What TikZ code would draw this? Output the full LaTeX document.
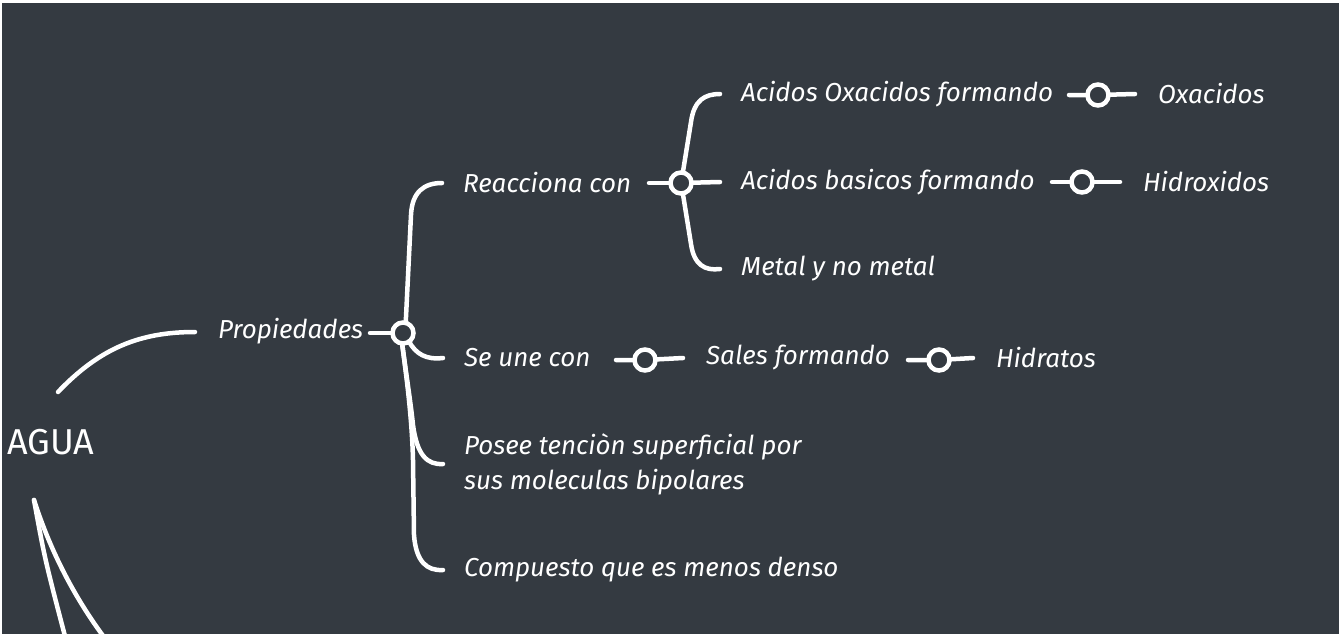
\documentclass[tikz,border=0pt]{standalone}
\usepackage{fontspec}
\setmainfont{Fira Sans}
\definecolor{bg}{HTML}{343A41}
\tikzset{
  lbl/.style={text=white, font=\fontsize{26}{35}\selectfont\itshape, inner sep=0pt, anchor=west, align=left},
  wire/.style={draw=white, line width=4.5pt, line cap=round},
  hub/.style={circle, draw=white, line width=4.5pt, fill=bg, minimum size=21pt, inner sep=0pt, outer sep=0pt},
}
\begin{document}
\begin{tikzpicture}[x=1pt,y=-1pt]
\useasboundingbox (0,0) rectangle (1339,634);
\fill[white] (0,0) rectangle (1339,634);
\fill[bg] (2,3) rectangle (1339,634);
\clip (2,3) rectangle (1339,634);

% nodes
\node[lbl, font=\fontsize{36}{40}\selectfont] (agua) at (7,442) {AGUA};
\node[lbl] (prop) at (218,331) {Propiedades};
\node[hub] (hubP) at (403,333) {};
\node[lbl] (reac) at (463,183) {Reacciona con};
\node[hub] (hubR) at (681,183) {};
\node[lbl] (ox) at (741,94) {Acidos Oxacidos formando};
\node[hub] (hubO) at (1098,95) {};
\node[lbl] (oxr) at (1158,94) {Oxacidos};
\node[lbl] (ba) at (741,182) {Acidos basicos formando};
\node[hub] (hubB) at (1082,182) {};
\node[lbl] (hid) at (1143,182) {Hidroxidos};
\node[lbl] (met) at (741,269) {Metal y no metal};
\node[lbl] (se) at (464,358) {Se une con};
\node[hub] (hubS) at (645,360) {};
\node[lbl] (sal) at (706,358) {Sales formando};
\node[hub] (hubT) at (939,360) {};
\node[lbl] (hidr) at (996,358) {Hidratos};
\node[lbl] (pos) at (464,464) {Posee tenciòn superficial por\\sus moleculas bipolares};
\node[lbl] (comp) at (464,570) {Compuesto que es menos denso};

% free ends
\coordinate (a0) at (58,392);
\coordinate (a1) at (195,332);
\coordinate (b0) at (34,500);
\coordinate (b1) at (66,640);
\coordinate (b2) at (110,645);

% connectors
\draw[wire] (a0) .. controls (100,348) and (140,332) .. (a1);
\draw[wire] (370,333) -- (hubP);
\draw[wire] (hubP.75) -- (411,215) .. controls (412,192) and (424,183) .. ([xshift=-21pt]reac.west);
\draw[wire] (hubP.-55) .. controls (416,354) and (426,360) .. ([xshift=-21pt]se.west);
\draw[wire] (hubP.-95) .. controls (407,380) and (411,405) .. (413,425) .. controls (417,455) and (427,465) .. ([xshift=-21pt]pos.west);
\draw[wire] (hubP.-95) .. controls (407,380) and (412,420) .. (413,460) -- (414,535) .. controls (416,562) and (427,571) .. ([xshift=-21pt]comp.west);

\draw[wire] (649,183) -- (hubR);
\draw[wire] (hubR) -- ([xshift=-21pt]ba.west);
\draw[wire] (hubR.80) -- (691,122) .. controls (694,100) and (705,94) .. ([xshift=-21pt]ox.west);
\draw[wire] (hubR.-80) -- (691,244) .. controls (694,265) and (705,271) .. ([xshift=-21pt]met.west);

\draw[wire] (1069,95) -- (hubO) -- ([xshift=-23pt]oxr.west);
\draw[wire] (1052,182) -- (hubB) -- ([xshift=-23pt]hid.west);
\draw[wire] (616,360) -- (hubS) -- ([xshift=-23pt]sal.west);
\draw[wire] (908,360) -- (hubT) -- ([xshift=-23pt]hidr.west);

\draw[wire] (b0) .. controls (45,560) .. (b1);
\draw[wire] (b0) .. controls (50,550) and (75,600) .. (b2);
\end{tikzpicture}
\end{document}
